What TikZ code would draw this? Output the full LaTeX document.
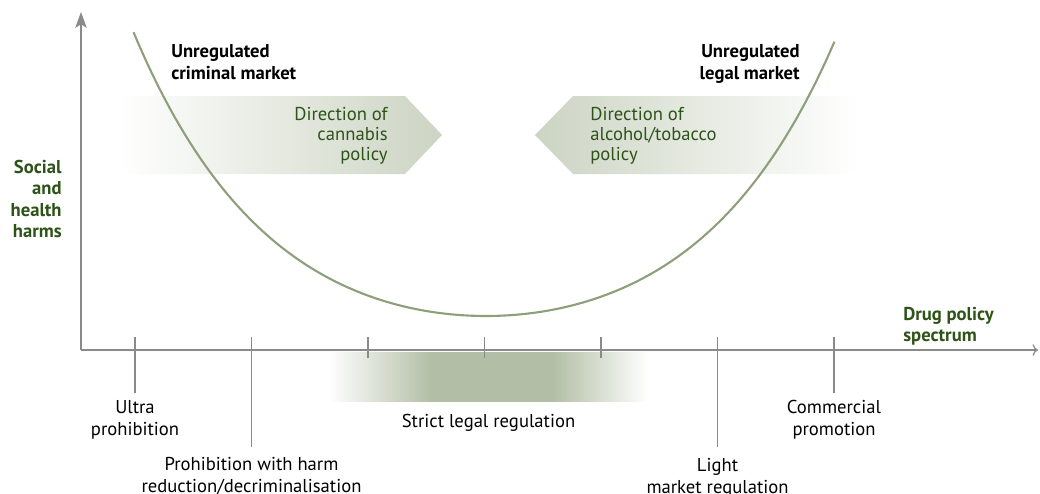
\documentclass[tikz,border=0pt]{standalone}
\usepackage{fontspec}
\setmainfont{PT Sans}
\usepackage{xcolor}
\usepackage{tikz}
\usetikzlibrary{arrows.meta,calc,positioning,shapes}
\definecolor{harmgreen}{HTML}{2E5318}
\definecolor{curvegreen}{HTML}{8D9F7B}
\definecolor{bandgreen}{HTML}{B2BEA5}
\definecolor{dirgreen}{HTML}{CCD4C3}
\definecolor{axisgrey}{HTML}{8A8A8A}
\pgfdeclarehorizontalshading{bandshade}{100bp}{color(0bp)=(white); color(25bp)=(white); color(41bp)=(bandgreen); color(60bp)=(bandgreen); color(75bp)=(white); color(100bp)=(white)}
\tikzset{
  axisline/.style={draw=axisgrey, line width=0.7pt},
  lbl/.style={inner sep=0pt, align=center, font=\fontsize{10.6}{12.3}\selectfont},
  dirtext/.style={inner sep=0pt, text=harmgreen, font=\fontsize{10.6}{11.4}\selectfont},
  mkttext/.style={inner sep=0pt, font=\fontsize{10.6}{12.3}\selectfont\bfseries},
  axtitle/.style={inner sep=0pt, text=harmgreen, font=\fontsize{10.6}{12.1}\selectfont\bfseries}
}

\begin{document}
\begin{tikzpicture}
  \useasboundingbox (-1.62,-2.86) rectangle (19.18,7.0);
  % direction arrows
  \shade[left color=white, right color=dirgreen] (0.74,5.08) -- (6.48,5.08) -- (7.22,4.3) -- (6.48,3.52) -- (0.74,3.52) -- cycle;
  \shade[left color=dirgreen, right color=white] (15.54,5.08) -- (9.84,5.08) -- (9.08,4.3) -- (9.84,3.52) -- (15.54,3.52) -- cycle;
  \node[dirtext, anchor=north east, align=right] (cannabis) at (6.14,4.86) {Direction of\\cannabis\\policy};
  \node[dirtext, anchor=north west, align=left] (alcohol) at (10.18,4.86) {Direction of\\alcohol/tobacco\\policy};
  % band under the axis
  \node[minimum width=6.38cm, minimum height=0.98cm, inner sep=0pt, shading=bandshade] (band) at (8.15,-0.53) {};
  \node[lbl, below=0.25 of band] (strict) {Strict legal regulation};
  % axes
  \coordinate (o) at (0,0);
  \draw[axisline, -{Stealth[length=9pt,width=6.5pt,inset=2pt]}] (o) -- (0,6.76) coordinate (ytop);
  \draw[axisline, ->] (o) -- (19.14,0) coordinate (xend);
  \foreach \i/\len in {1/0.86,2/1.94,3/0.16,4/0.16,5/0.16,6/1.94,7/0.86}{
    \coordinate (t\i) at ({1.08+(\i-1)*2.33},0);
    \draw[axisline] ($(t\i)+(0,0.26)$) -- ($(t\i)+(0,-\len)$) coordinate (e\i);
  }
  \node[lbl, below=0.14 of e1] (ultra) {Ultra\\prohibition};
  \node[lbl, below=0.2 of e2] (harmred) {Prohibition with harm\\reduction/decriminalisation};
  \node[lbl, below=0.22 of e6] (light) {Light\\market regulation};
  \node[lbl, below=0.14 of e7] (commercial) {Commercial\\promotion};
  % harm curve
  \draw[curvegreen, line width=1.2pt] plot[domain=-7.05:6.97, samples=90, smooth] ({8.1+\x},{0.68+1.083*(cosh(\x/2.8)-1)});
  \node[mkttext, anchor=north west, align=left] (criminal) at (1.8,6.12) {Unregulated\\criminal market};
  \node[mkttext, anchor=north east, align=right] (legal) at (14.38,6.12) {Unregulated\\legal market};
  \node[axtitle, anchor=north east, align=right] (harms) at (-0.38,3.8) {Social\\and\\health\\harms};
  \node[axtitle, anchor=north west, align=left] (spectrum) at (16.44,0.86) {Drug policy\\spectrum};
\end{tikzpicture}
\end{document}
